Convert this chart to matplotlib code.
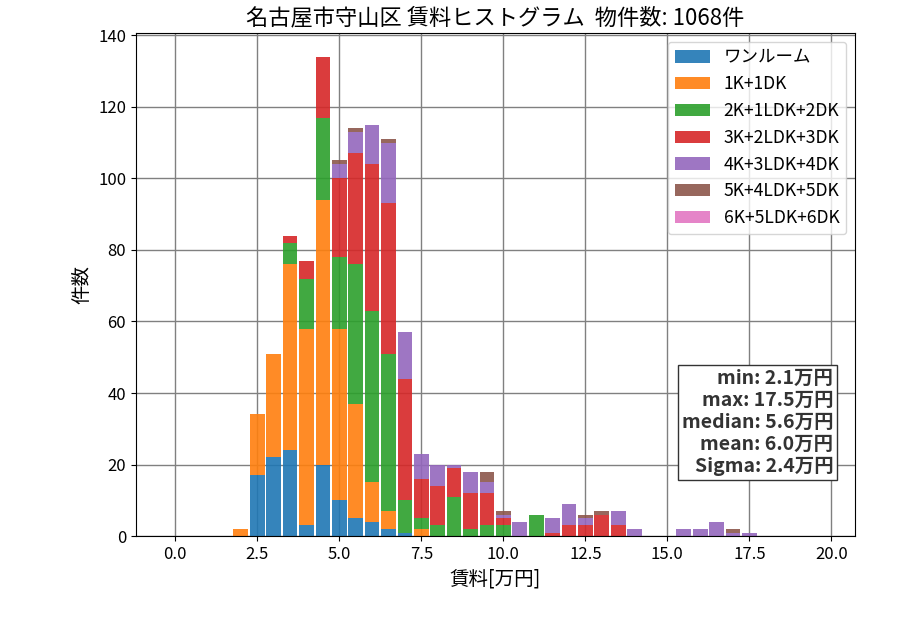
import numpy as np
import matplotlib
matplotlib.use('Agg')
import matplotlib.pyplot as plt

plt.rcParams['font.family'] = ['Noto Sans CJK JP', 'DejaVu Sans']

# bin centres [万円]
bin_centers = [2.0, 2.5, 3.0, 3.5, 4.0, 4.5, 5.0, 5.5, 6.0, 6.5,
               7.0, 7.5, 8.0, 8.5, 9.0, 9.5, 10.0, 10.5, 11.0, 11.5,
               12.0, 12.5, 13.0, 13.5, 14.0, 14.5, 15.0, 15.5, 16.0, 16.5,
               17.0, 17.5]

labels = ['ワンルーム', '1K+1DK', '2K+1LDK+2DK', '3K+2LDK+3DK',
          '4K+3LDK+4DK', '5K+4LDK+5DK', '6K+5LDK+6DK']

one_room = [0, 17, 22, 24, 3, 20, 10, 5, 4, 2,
            1, 0, 0, 0, 0, 0, 0, 0, 0, 0,
            0, 0, 0, 0, 0, 0, 0, 0, 0, 0,
            0, 0]
k1 = [2, 17, 29, 52, 55, 74, 48, 32, 11, 5,
      0, 2, 0, 0, 0, 0, 0, 0, 0, 0,
      0, 0, 0, 0, 0, 0, 0, 0, 0, 0,
      0, 0]
k2 = [0, 0, 0, 6, 14, 23, 20, 39, 48, 44,
      9, 3, 3, 11, 2, 3, 3, 0, 6, 0,
      0, 0, 0, 0, 0, 0, 0, 0, 0, 0,
      0, 0]
k3 = [0, 0, 0, 2, 5, 17, 22, 31, 41, 42,
      34, 11, 11, 8, 10, 9, 2, 0, 0, 1,
      3, 3, 6, 3, 0, 0, 0, 0, 0, 0,
      0, 0]
k4 = [0, 0, 0, 0, 0, 0, 4, 6, 11, 17,
      13, 7, 6, 1, 6, 3, 1, 4, 0, 4,
      6, 2, 0, 4, 2, 0, 0, 2, 2, 4,
      1, 1]
k5 = [0, 0, 0, 0, 0, 0, 1, 1, 0, 1,
      0, 0, 0, 0, 0, 3, 1, 0, 0, 0,
      0, 1, 1, 0, 0, 0, 0, 0, 0, 0,
      1, 0]
k6 = [0] * len(bin_centers)

series = [one_room, k1, k2, k3, k4, k5, k6]
colors = ['tab:blue', 'tab:orange', 'tab:green', 'tab:red',
          'tab:purple', 'tab:brown', 'tab:pink']

stats_text = 'min: 2.1万円\nmax: 17.5万円\nmedian: 5.6万円\nmean: 6.0万円\nSigma: 2.4万円'

fig = plt.figure(figsize=(9, 6.3), dpi=100)
ax = fig.add_axes([0.151, 0.149, 0.799, 0.799])

bottom = np.zeros(len(bin_centers))
for vals, lab, col in zip(series, labels, colors):
    vals = np.array(vals)
    ax.bar(bin_centers, vals, width=0.45, bottom=bottom, color=col,
           alpha=0.9, label=lab, zorder=2)
    bottom += vals

ax.set_xlim(-1.2, 20.72)
ax.set_ylim(0, 140.7)
ax.set_xticks([0, 2.5, 5, 7.5, 10, 12.5, 15, 17.5, 20])
ax.tick_params(labelsize=12)
ax.grid(True, color='gray', linewidth=1, zorder=0)
ax.set_axisbelow(True)

ax.set_title('名古屋市守山区 賃料ヒストグラム  物件数: 1068件', fontsize=16)
ax.set_xlabel('賃料[万円]', fontsize=14)
ax.set_ylabel('件数', fontsize=14)

ax.legend(loc='upper right', fontsize=12.6)

ax.text(0.97, 0.12, stats_text, transform=ax.transAxes, ha='right', va='bottom',
        fontsize=14, fontweight='bold', color='#333333', linespacing=1.2,
        bbox=dict(boxstyle='square,pad=0.2', facecolor='white', edgecolor='#333333'),
        zorder=5)

fig.savefig('out.png', dpi=100)
